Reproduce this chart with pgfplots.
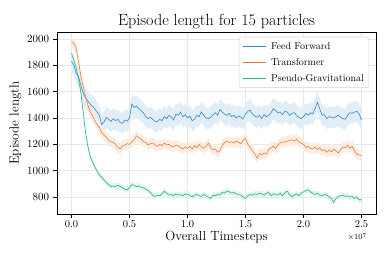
\documentclass[border=0pt]{standalone}
\usepackage{pgfplots}
\pgfplotsset{compat=1.18}
\usepackage{pgfplotstable}
\usepgfplotslibrary{fillbetween}
\definecolor{ffc}{RGB}{48,136,196}
\definecolor{trc}{RGB}{234,124,52}
\definecolor{pgc}{RGB}{38,178,138}
\pgfplotstableread{
x ff tr pg
0.00 1830 1980 1890
0.02 1800 1965 1840
0.04 1740 1930 1780
0.06 1715 1830 1700
0.08 1650 1720 1600
0.10 1590 1640 1450
0.12 1555 1570 1300
0.14 1530 1500 1190
0.16 1505 1450 1110
0.18 1490 1420 1070
0.20 1470 1380 1030
0.22 1445 1350 1000
0.24 1420 1330 970
0.26 1350 1290 950
0.28 1370 1270 930
0.30 1405 1255 910
0.32 1390 1230 895
0.34 1375 1220 880
0.36 1395 1215 885
0.38 1380 1200 880
0.40 1390 1175 890
0.42 1365 1165 880
0.44 1360 1190 870
0.46 1385 1195 860
0.48 1375 1205 855
0.50 1400 1200 870
0.52 1505 1220 895
0.54 1480 1235 890
0.56 1490 1265 880
0.58 1470 1250 885
0.60 1455 1240 875
0.62 1440 1220 870
0.64 1410 1215 860
0.66 1395 1195 850
0.68 1405 1205 835
0.70 1390 1210 815
0.72 1375 1195 805
0.74 1370 1185 815
0.76 1390 1200 810
0.78 1380 1190 825
0.80 1410 1210 845
0.82 1395 1195 830
0.84 1420 1200 815
0.86 1405 1185 820
0.88 1385 1180 810
0.90 1430 1195 825
0.92 1420 1190 815
0.94 1445 1175 820
0.96 1410 1165 810
0.98 1425 1180 825
1.00 1400 1170 820
1.02 1415 1185 815
1.04 1380 1165 800
1.06 1390 1190 815
1.08 1420 1175 820
1.10 1410 1200 810
1.12 1445 1180 805
1.14 1420 1170 820
1.16 1400 1185 810
1.18 1395 1210 800
1.20 1405 1175 790
1.22 1425 1160 815
1.24 1440 1165 810
1.26 1420 1140 820
1.28 1465 1155 815
1.30 1445 1190 835
1.32 1430 1215 830
1.34 1420 1225 845
1.36 1435 1215 840
1.38 1410 1220 830
1.40 1420 1210 835
1.42 1400 1225 825
1.44 1415 1215 820
1.46 1405 1205 815
1.48 1395 1230 800
1.50 1430 1245 790
1.52 1450 1200 810
1.54 1460 1180 820
1.56 1430 1150 815
1.58 1415 1130 825
1.60 1405 1095 820
1.62 1420 1130 830
1.64 1395 1120 825
1.66 1425 1135 815
1.68 1410 1125 830
1.70 1420 1160 835
1.72 1440 1175 810
1.74 1470 1185 825
1.76 1455 1170 820
1.78 1440 1195 815
1.80 1445 1210 830
1.82 1425 1220 810
1.84 1450 1215 835
1.86 1445 1225 845
1.88 1420 1230 820
1.90 1435 1235 800
1.92 1440 1225 815
1.94 1420 1240 825
1.96 1405 1220 810
1.98 1395 1210 830
2.00 1410 1200 840
2.02 1435 1175 850
2.04 1420 1185 855
2.06 1440 1170 840
2.08 1430 1165 830
2.10 1470 1180 820
2.12 1520 1160 830
2.14 1470 1175 815
2.16 1420 1150 810
2.18 1425 1160 820
2.20 1395 1140 815
2.22 1410 1155 800
2.24 1405 1145 790
2.26 1400 1165 760
2.28 1410 1150 790
2.30 1420 1135 805
2.32 1405 1160 810
2.34 1395 1180 815
2.36 1390 1175 805
2.38 1420 1195 810
2.40 1440 1170 800
2.42 1435 1185 805
2.44 1445 1150 790
2.46 1450 1125 800
2.48 1430 1120 780
2.50 1385 1115 780
}\datatable
\begin{document}
\begin{tikzpicture}
\begin{axis}[
  scale only axis, width=319bp, height=182bp,
  xmin=-0.125, xmax=2.625, ymin=672, ymax=2052,
  xtick={0,0.5,1,1.5,2,2.5},
  xticklabels={0.0,0.5,1.0,1.5,2.0,2.5},
  ytick={800,1000,1200,1400,1600,1800,2000},
  /pgf/number format/1000 sep={},
  grid=major, grid style={gray!18, line width=0.5pt},
  tick align=outside, xtick pos=bottom, ytick pos=left,
  major tick length=3.5bp,
  tick style={black, line width=0.6pt},
  axis line style={line width=0.8pt},
  tick label style={font=\fontsize{10.5}{12}\selectfont},
  yticklabel style={xshift=-1bp},
  label style={font=\fontsize{13.2}{15}\selectfont},
  title style={font=\fontsize{16.2}{19}\selectfont, yshift=-6bp},
  title={Episode length for 15 particles},
  xlabel={Overall Timesteps},
  ylabel={Episode length},
  xlabel style={yshift=4bp},
  ylabel style={yshift=-1bp},
  legend style={at={(0.978,0.973)}, anchor=north east, draw=gray!35, rounded corners=2pt,
    font=\fontsize{10}{11}\selectfont, cells={anchor=west}, row sep=3.6pt,
    inner xsep=3pt, inner ysep=3pt},
  legend image code/.code={\draw[#1, line width=1.2pt] (0bp,0bp) -- (23bp,0bp); \path (26bp,0bp);},
]
\addplot[name path=ffu, draw=none, forget plot] table[x=x, y expr=\thisrow{ff}+80]{\datatable};
\addplot[name path=ffl, draw=none, forget plot] table[x=x, y expr=\thisrow{ff}-80]{\datatable};
\addplot[ffc!14, forget plot] fill between[of=ffu and ffl];
\addplot[name path=tru, draw=none, forget plot] table[x=x, y expr=\thisrow{tr}+40]{\datatable};
\addplot[name path=trl, draw=none, forget plot] table[x=x, y expr=\thisrow{tr}-40]{\datatable};
\addplot[trc!14, forget plot] fill between[of=tru and trl];
\addplot[name path=pgu, draw=none, forget plot] table[x=x, y expr=\thisrow{pg}+22]{\datatable};
\addplot[name path=pgl, draw=none, forget plot] table[x=x, y expr=\thisrow{pg}-22]{\datatable};
\addplot[pgc!14, forget plot] fill between[of=pgu and pgl];
\addplot[ffc, line width=0.6pt] table[x=x, y=ff]{\datatable};
\addlegendentry{\textcolor{black}{Feed Forward}}
\addplot[trc, line width=0.6pt] table[x=x, y=tr]{\datatable};
\addlegendentry{\textcolor{black}{Transformer}}
\addplot[pgc, line width=0.6pt] table[x=x, y=pg]{\datatable};
\addlegendentry{\textcolor{black}{Pseudo-Gravitational}}
\end{axis}
\node[anchor=east, font=\fontsize{8.5}{10}\selectfont, inner sep=0pt] at ([xshift=-9bp, yshift=-23bp]current axis.south east) {$\times 10^{7}$};
\pgfresetboundingbox
\path[use as bounding box] ([xshift=-57bp,yshift=-45bp]current axis.south west) rectangle ([xshift=13bp,yshift=32bp]current axis.north east);
\end{tikzpicture}
\end{document}
